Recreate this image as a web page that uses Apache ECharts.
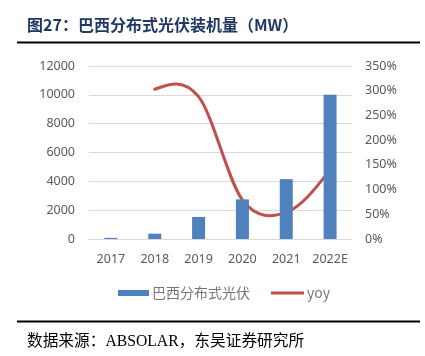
<!DOCTYPE html>
<html>
<head>
<meta charset="utf-8">
<script src="https://cdn.jsdelivr.net/npm/echarts@6/dist/echarts.min.js"></script>
<style>html,body{margin:0;padding:0;background:#fff;}#c{width:425px;height:356px;}</style>
</head>
<body>
<div id="c"></div>
<script>
var categories = ['2017', '2018', '2019', '2020', '2021', '2022E'];
var capacityMW = [80, 370, 1530, 2750, 4150, 10000];
var yoyPct = [null, 303, 288, 79, 54, 140];
var leftTicks = [0, 12000, 2000];
var rightTicks = [0, 350, 50];

// points of the yoy series (category index, value), skipping the empty first year
var yoyPoints = [];
yoyPct.forEach(function (v, i) { if (v !== null) yoyPoints.push([i, v]); });

function smoothPath(api) {
  var p = yoyPoints.map(function (d) { return api.coord(d); });
  var n = p.length;
  var d = 'M' + p[0][0] + ',' + p[0][1];
  for (var i = 0; i < n - 1; i++) {
    var p0 = p[i], p1 = p[i + 1];
    var prev = i > 0 ? p[i - 1] : null, next = i + 2 < n ? p[i + 2] : null;
    var c1, c2;
    if (prev) c1 = [p0[0] + (p1[0] - prev[0]) / 6, p0[1] + (p1[1] - prev[1]) / 6];
    else c1 = [p0[0] + (p1[0] - p0[0]) / 3, p0[1] + (p1[1] - p0[1]) / 3];
    if (next) c2 = [p1[0] - (next[0] - p0[0]) / 6, p1[1] - (next[1] - p0[1]) / 6];
    else c2 = [p1[0] - (p1[0] - p0[0]) / 3, p1[1] - (p1[1] - p0[1]) / 3];
    if (!prev) c1 = [p0[0] + (c2[0] - p0[0]) * 0.5, p0[1] + (c2[1] - p0[1]) * 0.5];
    if (!next) c2 = [p1[0] + (c1[0] - p1[0]) * 0.5, p1[1] + (c1[1] - p1[1]) * 0.5];
    d += ' C' + c1[0] + ',' + c1[1] + ' ' + c2[0] + ',' + c2[1] + ' ' + p1[0] + ',' + p1[1];
  }
  return d;
}

var chart = echarts.init(document.getElementById('c'));
var axisFont = {color: '#595959', fontSize: 12.5, fontFamily: 'Noto Sans'};
var legendText = {color: '#767676', fontSize: 14, fontFamily: 'Noto Sans CJK SC', padding: [0, 0, 0, -2]};
chart.setOption({
  animation: false,
  backgroundColor: '#fff',
  grid: {left: 89, right: 73, top: 66, bottom: 117},
  legend: [{
    left: 113, top: 281, itemWidth: 31, itemHeight: 6,
    textStyle: legendText,
    data: [{name: '巴西分布式光伏', icon: 'rect'}]
  }, {
    left: 266, top: 281, itemWidth: 33, itemHeight: 3,
    textStyle: legendText,
    data: [{name: 'yoy', icon: 'rect'}]
  }],
  xAxis: {
    type: 'category', data: categories,
    axisTick: {show: false},
    axisLine: {lineStyle: {color: '#d9d9d9'}},
    axisLabel: Object.assign({margin: 14, interval: 0}, axisFont)
  },
  yAxis: [{
    type: 'value', min: leftTicks[0], max: leftTicks[1], interval: leftTicks[2],
    axisLine: {show: false}, axisTick: {show: false},
    splitLine: {lineStyle: {color: '#d9d9d9'}},
    axisLabel: Object.assign({margin: 14, formatter: function (v) { return String(v); }}, axisFont)
  }, {
    type: 'value', min: rightTicks[0], max: rightTicks[1], interval: rightTicks[2],
    axisLine: {show: false}, axisTick: {show: false}, splitLine: {show: false},
    axisLabel: Object.assign({margin: 13, formatter: '{value}%'}, axisFont)
  }],
  series: [{
    name: '巴西分布式光伏', type: 'bar', data: capacityMW, barWidth: 13,
    itemStyle: {color: '#4F81BD'}
  }, {
    name: 'yoy', type: 'custom', yAxisIndex: 1, data: yoyPoints,
    itemStyle: {color: '#C0504D'},
    encode: {x: 0, y: 1},
    renderItem: function (params, api) {
      if (params.dataIndex !== 0) return null;
      return {
        type: 'path',
        shape: {pathData: smoothPath(api)},
        style: {fill: null, stroke: '#C0504D', lineWidth: 3, lineCap: 'round'}
      };
    }
  }],
  graphic: [
    {type: 'text', left: 27, top: 17, style: {text: '图27：巴西分布式光伏装机量（MW）', fill: '#1F3864', font: 'bold 16px "Noto Sans CJK SC"'}},
    {type: 'line', shape: {x1: 17, y1: 42.5, x2: 420, y2: 42.5}, style: {stroke: '#000', lineWidth: 2}},
    {type: 'line', shape: {x1: 17, y1: 321.5, x2: 420, y2: 321.5}, style: {stroke: '#000', lineWidth: 2}},
    {type: 'text', left: 27, top: 334, style: {text: '数据来源：ABSOLAR，东吴证券研究所', fill: '#000', font: '15.7px "Liberation Serif", "Noto Sans CJK SC"'}}
  ]
});
</script>
</body>
</html>
